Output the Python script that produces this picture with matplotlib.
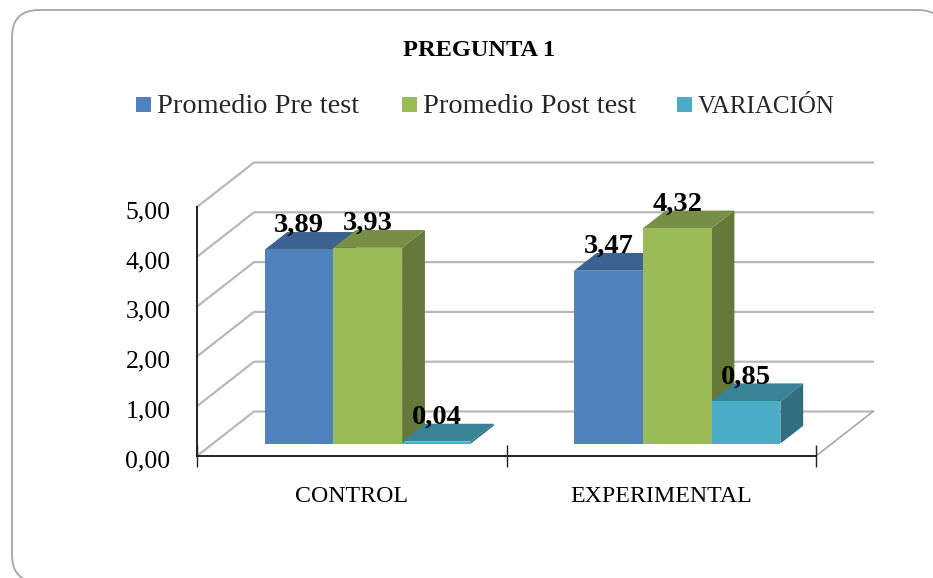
import matplotlib
matplotlib.use('Agg')
import matplotlib.pyplot as plt
from matplotlib.patches import FancyBboxPatch, Polygon, Rectangle
from matplotlib.transforms import ScaledTranslation

categories = ["CONTROL", "EXPERIMENTAL"]
series_names = ["Promedio Pre test", "Promedio Post test", "VARIACIÓN"]
pre_test = [3.89, 3.47]
post_test = [3.93, 4.32]
variacion = [0.04, 0.85]
value_ticks = [0, 1, 2, 3, 4, 5]
value_labels = ["0,00", "1,00", "2,00", "3,00", "4,00", "5,00"]

W, H = 933, 578
front = ["#4f81bd", "#9bbb59", "#4bacc6"]
top = ["#3c6291", "#778f45", "#398399"]
side = ["#2f4d73", "#657a3a", "#316f80"]

plt.rcParams['font.family'] = ['Liberation Serif', 'DejaVu Serif']

fig = plt.figure(figsize=(W / 100, H / 100), dpi=100)

# rounded frame, in pixels; it runs off the right and bottom of the picture
bg = fig.add_axes([0, 0, 1, 1])
bg.set_xlim(0, W)
bg.set_ylim(H, 0)
bg.axis('off')
bg.add_patch(FancyBboxPatch((39, 37), 945 - 39 - 27, 582 - 37 - 27,
                            boxstyle="round,pad=27,rounding_size=27",
                            fc='white', ec='#a6a6a6', lw=1.3))

# front plane of the plot box: x 197..816, y 456..207
ax = fig.add_axes([197 / W, 1 - 456 / H, 619 / W, 249 / H])
ax.set_xlim(0, 2)
ax.set_ylim(0, 5)
ax.patch.set_alpha(0)
for s in ['top', 'right']:
    ax.spines[s].set_visible(False)

# one full depth step, in data units
DX = 57 / 309.5
DY = 44.5 / 49.8
bar_w = 68.8 / 309.5
d0, d1 = 0.28, 0.68


def depth(x, v, d):
    return (x + d * DX, v + d * DY)


# back wall grid and floor
for v in value_ticks:
    pts = [depth(0, v, 0), depth(0, v, 1), depth(2, v, 1)]
    ax.plot([p[0] for p in pts], [p[1] for p in pts], color='#b8b8b8',
            lw=1.6, clip_on=False, zorder=1, solid_joinstyle='miter')
pts = [depth(2, 0, 0), depth(2, 0, 1)]
ax.plot([p[0] for p in pts], [p[1] for p in pts], color='#a8a8a8',
        lw=1.2, clip_on=False, zorder=1)

# bars
for c in range(len(categories)):
    values = [pre_test[c], post_test[c], variacion[c]]
    for i, val in enumerate(values):
        x0 = c + 0.5 + (i - 1.5) * bar_w
        x1 = x0 + bar_w
        xb = x0 + d0 * DX
        base = d0 * DY
        ax.bar(xb, val, bar_w, bottom=base, align='edge', color=front[i],
               clip_on=False, zorder=3 + i * 2)
        ax.add_patch(Polygon([depth(x0, val, d0), depth(x1, val, d0),
                              depth(x1, val, d1), depth(x0, val, d1)],
                             fc=top[i], ec='none', clip_on=False, zorder=2 + i * 2))
        ax.add_patch(Polygon([depth(x1, 0, d0), depth(x1, val, d0),
                              depth(x1, val, d1), depth(x1, 0, d1)],
                             fc=side[i], ec='none', clip_on=False, zorder=2 + i * 2))

# value labels sit on the back edge of the bar top
for c in range(len(categories)):
    values = [pre_test[c], post_test[c], variacion[c]]
    for i, val in enumerate(values):
        xc = c + 0.5 + (i - 1.0) * bar_w + d0 * DX
        ax.text(xc, val + d1 * DY, f"{val:.2f}".replace('.', ','), ha='center',
                va='baseline', fontsize=20.5, fontweight='bold', color='black',
                clip_on=False, zorder=20)

ax.set_yticks(value_ticks)
ax.set_yticklabels(value_labels)
ax.set_xticks([0, 1, 2])
ax.set_xticklabels([])
for i, name in enumerate(categories):
    ax.text(i + 0.5, -0.92, name, ha='center', va='baseline', fontsize=17.2, color='black')
ax.tick_params(axis='y', labelsize=18.5, length=0, pad=19)
ax.tick_params(axis='x', direction='inout', length=16, width=1, color='#222222')
for lab in ax.get_yticklabels():
    lab.set_transform(lab.get_transform() + ScaledTranslation(0, -2 / 72, fig.dpi_scale_trans))
for s in ['left', 'bottom']:
    ax.spines[s].set_linewidth(1.4)
    ax.spines[s].set_color('#222222')
    ax.spines[s].set_zorder(10)

bg.text(479, 56, "PREGUNTA 1", ha='center', va='baseline', fontsize=17.6, fontweight='bold')

# legend
swatch_x = [136, 402, 677]
legend_sizes = [20.4, 20.4, 18]
for i, name in enumerate(series_names):
    bg.add_patch(Rectangle((swatch_x[i], 97), 15, 15, fc=front[i], ec='none'))
    bg.text(swatch_x[i] + 21, 113, name, ha='left', va='baseline',
            fontsize=legend_sizes[i], color='#262626')

fig.savefig("out.png", dpi=100)
